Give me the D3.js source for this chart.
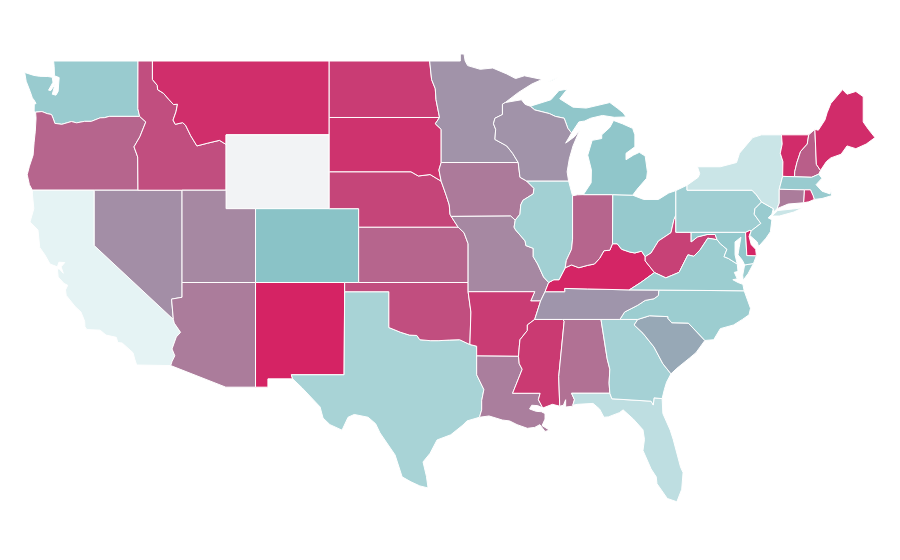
<!DOCTYPE html>
<html>
<head>
<meta charset="utf-8">
<style>
  html, body { margin: 0; background: #fff; }
</style>
</head>
<body>
<div id="map"></div>
<script src="https://cdn.jsdelivr.net/npm/d3@7"></script>
<script>
// shared borders, lon/lat
var ohioRiver = [[-82.6,38.4],[-82.85,38.7],[-83.3,38.6],[-83.65,38.65],[-84.2,38.8],[-84.5,39.1],[-84.82,39.1],[-85.0,38.75],[-85.4,38.72],[-85.7,38.3],[-86.05,38.0],[-86.5,37.93],[-87.1,37.8],[-87.6,37.95],[-88.03,37.8]];
var lowerOhio = [[-88.03,37.8],[-88.45,37.15],[-88.8,37.15],[-89.15,37.0]];
var upperMiss = [[-92.8,44.75],[-92.0,44.4],[-91.6,44.0],[-91.22,43.5],[-91.1,42.7],[-90.65,42.5]];
var iowaMiss = [[-90.65,42.5],[-90.15,42.1],[-90.2,41.8],[-90.9,41.45],[-91.05,41.2],[-91.1,40.7],[-91.42,40.38]];
var moMiss = [[-91.42,40.38],[-91.5,40.0],[-91.4,39.85],[-90.75,39.25],[-90.7,39.0],[-90.2,38.85],[-90.2,38.4],[-89.9,38.0],[-89.5,37.3],[-89.15,37.0]];
var lowMiss = [[-90.1,35.0],[-90.35,34.85],[-90.6,34.7],[-90.6,34.4],[-91.1,33.9],[-91.15,33.5],[-91.2,33.0]];
var redRiver = [[-100,34.56],[-99.2,34.3],[-98.6,34.15],[-98.1,34.13],[-97.9,33.9],[-97.2,33.85],[-96.6,33.85],[-95.9,33.88],[-95.2,33.9],[-94.5,33.64]];
var sabine = [[-94.04,32.0],[-93.55,31.2],[-93.7,30.6],[-93.7,30.1],[-93.85,29.7]];
var moRiver = [[-96.45,42.49],[-96.1,41.7],[-95.9,41.2],[-95.85,40.7],[-95.77,40.58]];
var bitterroot = [[-116.05,49],[-116.05,48],[-115.72,47.68],[-115.7,47.45],[-115.3,47.25],[-114.95,46.93],[-114.62,46.64],[-114.35,46.66],[-114.45,46.25],[-114.65,45.8],[-114.5,45.57],[-114,45.66],[-113.8,45.52],[-113.45,44.95],[-113.03,44.4],[-112.3,44.55],[-111.5,44.7],[-111.05,44.48]];
var hellsCanyon = [[-117.03,42],[-117.05,43.8],[-117.3,44.35],[-116.9,44.9],[-116.5,45.7],[-116.92,46]];
var columbia = [[-116.92,46],[-118.98,46],[-119.3,45.93],[-119.6,45.92],[-120.2,45.73],[-120.65,45.73],[-121.2,45.65],[-121.55,45.72],[-122.2,45.57],[-122.67,45.62],[-122.78,45.87],[-122.9,46.1],[-123.2,46.15],[-123.55,46.26],[-123.98,46.23]];
var coloradoR = [[-114.75,36.1],[-114.63,35],[-114.57,34.8],[-114.14,34.3],[-114.43,34.05],[-114.72,33.4],[-114.53,33.03],[-114.72,32.72]];
var tnNc = [[-81.68,36.59],[-81.7,36.3],[-82,36.12],[-82.6,36.03],[-83.1,35.77],[-84,35.4],[-84.32,35]];
var scNc = [[-83.1,35],[-82.3,35.2],[-81.05,35.15],[-81.05,35.05],[-80.8,34.82],[-79.67,34.8],[-78.55,33.86]];
var kyTop = [[-89.4,36.5],[-88.06,36.5],[-88.07,36.68],[-86.5,36.65],[-83.68,36.6]];
var wvEast = [[-79.48,39.72],[-79.48,39.2],[-79.05,39.47],[-78.4,39.6],[-77.85,39.6],[-77.72,39.32]];
var wvVa = [[-77.72,39.32],[-78.35,39.4],[-78.87,38.77],[-79.3,38.42],[-79.7,38.5],[-80.3,37.55],[-81.2,37.25],[-81.97,37.54]];
var potomac = [[-76.35,38.0],[-76.95,38.3],[-77.25,38.4],[-77.05,38.8],[-77.5,39.1],[-77.72,39.32]];
var upBorder = [[-90.4,46.55],[-90.1,46.35],[-89.1,46.15],[-88.7,46],[-88.1,45.9],[-87.85,45.35],[-87.6,45.1]];
var flNorth = [[-85,31],[-84.86,30.7],[-82.2,30.57],[-82.05,30.36],[-82,30.75],[-81.45,30.71]];
var gaSc = [[-83.1,35],[-83.35,34.7],[-82.75,34.25],[-82,33.5],[-81.4,32.6],[-80.85,32.05]];

function rev(c) { return c.slice().reverse(); }

var WA = [[[-122.76,49],[-117.03,49],[-117.04,46.42]].concat(columbia,
  [[-124.08,46.27],[-124.07,46.65],[-123.95,46.7],[-124.1,46.9],[-124.2,47],[-124.35,47.35],[-124.62,47.9],[-124.72,48.38],[-124.1,48.22],[-123.7,48.17],[-123.15,48.16],[-122.85,48.12],[-122.8,47.85],[-123.1,47.42],[-122.95,47.4],[-122.65,47.75],[-122.85,47.2],[-122.6,47.15],[-122.45,47.35],[-122.42,47.7],[-122.38,48.1],[-122.7,48.2],[-122.72,48.7]])];
var OR = [columbia.concat([[-123.95,45.9],[-124,45.2],[-124.08,44.6],[-124.15,43.9],[-124.4,43.3],[-124.55,42.84],[-124.4,42.3],[-124.2,42]], hellsCanyon)];
var CA = [[[-124.2,42],[-120,42],[-120,39],[-114.63,35]].concat(coloradoR.slice(2),
  [[-114.81,32.5],[-117.12,32.53],[-117.25,32.85],[-117.37,33.2],[-118.1,33.72],[-118.4,33.75],[-118.5,34.03],[-119.2,34.15],[-119.6,34.42],[-120.5,34.45],[-120.63,34.6],[-120.65,34.9],[-120.9,35.4],[-121.3,35.7],[-121.9,36.3],[-121.95,36.6],[-121.8,36.85],[-122.05,36.95],[-122.45,37.3],[-122.5,37.75],[-122.35,37.72],[-122.1,37.5],[-122.25,37.85],[-122,38.08],[-122.4,38.1],[-122.5,37.85],[-123,38],[-123.35,38.5],[-123.7,38.9],[-123.82,39.85],[-124.36,40.28],[-124.1,41],[-124.2,41.8]])];
var NV = [[[-120,42],[-114.04,42],[-114.04,36.2],[-114.75,36.1],[-114.63,35],[-120,39]]];
var ID = [[[-117.03,49]].concat(bitterroot, [[-111.05,42]], hellsCanyon, [[-117.04,46.42]])];
var MT = [bitterroot.concat([[-111.05,45],[-104.05,45],[-104.05,49]])];
var WY = [[[-111.05,45],[-104.05,45],[-104.05,41],[-111.05,41]]];
var UT = [[[-114.04,42],[-111.05,42],[-111.05,41],[-109.05,41],[-109.05,37],[-114.04,37]]];
var CO = [[[-109.05,41],[-102.05,41],[-102.05,37],[-109.05,37]]];
var AZ = [[[-114.04,37],[-109.05,37],[-109.05,31.33],[-111.07,31.33],[-114.81,32.5]].concat(rev(coloradoR), [[-114.04,36.2]])];
var NM = [[[-109.05,37],[-103,37],[-103.04,32],[-106.62,32],[-106.53,31.78],[-108.21,31.78],[-108.21,31.33],[-109.05,31.33]]];
var TX = [[[-106.53,31.78],[-106.62,32],[-103.04,32],[-103,36.5],[-100,36.5]].concat(redRiver, [[-94.04,33.55],[-94.04,33.02]], sabine,
  [[-94.7,29.5],[-94.97,29.28],[-95.8,28.75],[-96.73,28.47],[-97.2,27.75],[-97.68,27.28],[-97.45,26.5],[-97.34,25.87],[-97.9,25.98],[-98.5,26.2],[-99.1,26.47],[-99.58,27.66],[-100.6,28.85],[-100.9,29.35],[-101.41,29.7],[-102.35,29.85],[-102.77,29.7],[-103.18,29],[-104,29.3],[-104.47,29.66],[-104.67,30.26],[-105.9,31.3]])];
var OK = [[[-103,37],[-94.62,37],[-94.62,36.5],[-94.43,35.4]].concat(rev(redRiver), [[-100,36.5],[-103,36.5]])];
var KS = [[[-102.05,40],[-95.3,40],[-94.9,39.7],[-94.62,39.1],[-94.62,37],[-102.05,37]]];
var NE = [[[-104.05,43],[-98.5,43],[-98,42.77],[-97.2,42.85]].concat(moRiver, [[-95.3,40],[-102.05,40],[-102.05,41],[-104.05,41]])];
var SD = [[[-104.05,45.94],[-96.56,45.94],[-96.85,45.6],[-96.45,45.3],[-96.45,43.5],[-96.6,43.1],[-96.45,42.49],[-97.2,42.85],[-98,42.77],[-98.5,43],[-104.05,43]]];
var ND = [[[-104.05,49],[-97.23,49],[-97.1,48],[-96.85,47.5],[-96.8,46.9],[-96.56,45.94],[-104.05,45.94]]];
var MN = [[[-97.23,49],[-95.15,49],[-95.15,49.38],[-94.9,49.38],[-94.82,49],[-94.65,48.75],[-93.8,48.55],[-92.95,48.62],[-92,48.3],[-91.4,48.05],[-90.8,48.2],[-89.6,48],[-90.3,47.75],[-91.2,47.3],[-92.1,46.75],[-92.29,46.66],[-92.29,46.1],[-92.8,45.9],[-92.9,45.6],[-92.75,45.3]].concat(upperMiss.slice(0,4),
  [[-96.45,43.5],[-96.45,45.3],[-96.85,45.6],[-96.56,45.94],[-96.8,46.9],[-96.85,47.5],[-97.1,48]])];
var IA = [[[-96.45,43.5],[-91.22,43.5],[-91.1,42.7]].concat(iowaMiss, [[-91.73,40.6]], rev(moRiver), [[-96.6,43.1]])];
var MO = [[[-95.77,40.58],[-91.73,40.6]].concat(moMiss, [[-89.4,36.5],[-89.7,36],[-90.37,36],[-90.1,36.5],[-94.62,36.5],[-94.62,37],[-94.62,39.1],[-94.9,39.7],[-95.3,40]])];
var AR = [[[-94.62,36.5],[-90.1,36.5],[-90.37,36],[-89.7,36]].concat(lowMiss, [[-94.04,33.02],[-94.04,33.55],[-94.5,33.64],[-94.43,35.4]])];
var LA = [[[-94.04,33.02],[-91.2,33],[-91.15,32.6],[-90.95,32.3],[-91.6,31],[-89.73,31],[-89.85,30.65],[-89.55,30.2],[-89.9,30.33],[-90.3,30.35],[-90.45,30.15],[-90,30.02],[-89.65,30],[-89.4,29.9],[-89.4,29.6],[-89.6,29.25],[-89.1,29],[-89.4,28.93],[-89.75,29.3],[-90.1,29.15],[-90.6,29.1],[-91.3,29.3],[-91.8,29.5],[-92.3,29.55],[-93.2,29.77]].concat(rev(sabine))];
var MS = [lowMiss.concat([[-91.15,32.6],[-90.95,32.3],[-91.6,31],[-89.73,31],[-89.85,30.65],[-89.55,30.2],[-88.9,30.4],[-88.4,30.3],[-88.47,31.9],[-88.1,34.9],[-88.2,35]])];
var AL = [[[-88.2,35],[-85.6,35],[-85.18,32.87],[-85,32.3],[-85.05,31.55],[-85,31],[-87.6,31],[-87.4,30.65],[-87.52,30.3],[-88,30.25],[-88,30.65],[-88.15,30.35],[-88.4,30.3],[-88.47,31.9],[-88.1,34.9]]];
var FL = [[[-87.6,31]].concat(flNorth, [[-81.4,29.9],[-80.9,29],[-80.7,28.5],[-80.2,27],[-80.03,26.7],[-80.12,25.8],[-80.45,25.12],[-81.1,25.3],[-81.8,26.1],[-81.85,26.47],[-82.2,26.9],[-82.75,27.9],[-82.65,28.5],[-82.75,29.02],[-83.4,29.6],[-84.1,30.1],[-84.35,29.95],[-85.1,29.72],[-85.4,29.7],[-85.7,30.15],[-86.14,30.45],[-87.2,30.4],[-87.52,30.35],[-87.4,30.65]])];
var GA = [[[-85.6,35]].concat(gaSc, [[-81.15,31.6],[-81.3,31.2]], rev(flNorth), [[-85.05,31.55],[-85,32.3],[-85.18,32.87]])];
var SC = [scNc.concat([[-79.15,33.2],[-79.6,32.9],[-80.45,32.35]], rev(gaSc))];
var NC = [[[-84.32,35]].concat(scNc, [[-77.95,33.9],[-77.5,34.5],[-76.6,34.7],[-76,35],[-75.55,35.25],[-75.45,35.6],[-75.88,36.55]], tnNc)];
var TN = [kyTop.concat([[-81.68,36.59]], tnNc.slice(1), [[-85.6,35],[-88.2,35],[-90.1,35],[-89.7,36]])];
var KY = [kyTop.concat([[-82.9,37],[-81.97,37.54],[-82.6,38.17]], ohioRiver, lowerOhio)];
var IL = [[[-90.65,42.5],[-87.8,42.5],[-87.55,41.75],[-87.53,41.7],[-87.53,39.35],[-87.6,38.8],[-87.95,38.2]].concat(lowerOhio, rev(moMiss), rev(iowaMiss))];
var IN = [[[-87.53,41.7],[-87.2,41.75],[-86.8,41.76],[-84.8,41.76],[-84.82,39.1]].concat(ohioRiver.slice(7), [[-87.95,38.2],[-87.6,38.8],[-87.53,39.35]])];
var OH = [[[-84.8,41.76],[-83.45,41.73],[-82.7,41.5],[-81.7,41.5],[-81,41.85],[-80.52,41.98],[-80.52,40.64],[-80.65,40.4],[-80.85,39.7],[-81.7,39.25],[-82.2,38.6]].concat(ohioRiver.slice(0,7))];
var WV = [[[-80.52,40.64],[-80.52,39.72]].concat(wvEast, wvVa.slice(1), [[-82.6,38.17],[-82.6,38.4],[-82.2,38.6],[-81.7,39.25],[-80.85,39.7],[-80.65,40.4]])];
var VA = [[[-83.68,36.6],[-81.68,36.59],[-75.88,36.55],[-75.97,36.9],[-76.3,37],[-76.65,37.15],[-76.35,37.2],[-76.55,37.55],[-76.3,37.6]].concat(potomac, wvVa.slice(1), [[-82.9,37]]),
  [[-75.95,37.12],[-75.98,37.4],[-75.85,37.95],[-75.25,38.03],[-75.6,37.5]]];
var MD = [wvEast.concat(rev(potomac), [[-76.5,38.5],[-76.5,39.2],[-76.1,39.45],[-76.22,38.9],[-76.3,38.5],[-76,38.2],[-75.85,37.95],[-75.25,38.03],[-75.05,38.45],[-75.7,38.46],[-75.79,39.72]]).reverse()];
var DE = [[[-75.79,39.72],[-75.5,39.83],[-75.4,39.8],[-75.55,39.5],[-75.4,39.05],[-75.1,38.8],[-75.05,38.45],[-75.7,38.46]]];
var PA = [[[-80.52,41.98],[-79.76,42.27],[-79.76,42],[-75.35,42],[-75.05,41.75],[-74.7,41.36],[-75.15,41],[-75.2,40.7],[-74.75,40.2],[-75.4,39.8],[-75.5,39.83],[-75.79,39.72],[-80.52,39.72]]];
var NJ = [[[-74.7,41.36],[-73.9,41],[-74,40.7],[-74.25,40.5],[-74,40.4],[-74.1,39.75],[-74.4,39.4],[-74.9,38.95],[-75,39.2],[-75.5,39.55],[-75.4,39.8],[-74.75,40.2],[-75.2,40.7],[-75.15,41]]];
var NY = [[[-79.76,42.27],[-79,42.7],[-78.9,42.9],[-79.05,43.27],[-77.5,43.27],[-76.4,43.5],[-76.2,44],[-75.3,44.85],[-74.7,45],[-73.35,45],[-73.3,44.5],[-73.43,44],[-73.25,43.55],[-73.27,42.75],[-73.5,42.05],[-73.5,41.3],[-73.65,41],[-73.9,40.8],[-73.9,41],[-74.7,41.36],[-75.05,41.75],[-75.35,42],[-79.76,42]],
  [[-74,40.6],[-73.6,40.9],[-72.6,40.98],[-71.9,41.05],[-72.5,40.82],[-73.5,40.6]]];
var VT = [[[-73.35,45],[-71.5,45],[-71.6,44.5],[-72.05,44.1],[-72.3,43.5],[-72.45,43],[-72.46,42.73],[-73.27,42.75],[-73.25,43.55],[-73.43,44],[-73.3,44.5]]];
var NH = [[[-71.5,45],[-71.08,45.3],[-70.98,43.4],[-70.7,43.07],[-70.82,42.87],[-71.3,42.7],[-72.46,42.73],[-72.45,43],[-72.3,43.5],[-72.05,44.1],[-71.6,44.5]]];
var ME = [[[-71.08,45.3],[-70.85,45.25],[-70.4,45.8],[-70.25,46.2],[-70,46.7],[-69.2,47.45],[-68.9,47.2],[-68.3,47.35],[-67.8,47.07],[-67.8,45.7],[-67.45,45.3],[-67,44.85],[-67.6,44.5],[-68.3,44.25],[-68.9,44.4],[-69.3,43.95],[-70,43.75],[-70.3,43.55],[-70.7,43.07],[-70.98,43.4]]];
var MA = [[[-73.5,42.05],[-73.27,42.75],[-72.46,42.73],[-71.3,42.7],[-70.82,42.87],[-70.6,42.65],[-71,42.3],[-70.6,41.95],[-70.05,41.8],[-70,42.05],[-69.95,41.7],[-70.6,41.55],[-71.12,41.5],[-71.2,41.7],[-71.38,42.02],[-71.8,42.02]]];
var RI = [[[-71.8,42.02],[-71.38,42.02],[-71.2,41.7],[-71.12,41.5],[-71.5,41.37],[-71.85,41.32]]];
var CT = [[[-73.5,42.05],[-71.8,42.02],[-71.85,41.32],[-72.9,41.25],[-73.65,41],[-73.5,41.3]]];
var MI = [[[-86.8,41.76],[-84.8,41.76],[-83.45,41.73],[-83.15,42.05],[-82.5,42.65],[-82.45,43],[-82.6,43.85],[-83,44.05],[-83.4,43.9],[-83.9,43.65],[-83.9,44],[-83.3,44.35],[-83.3,45],[-83.45,45.35],[-84.15,45.6],[-84.75,45.78],[-85,45.4],[-85.55,45],[-85.55,44.8],[-86.2,44.7],[-86.5,43.9],[-86.25,43.1],[-86.27,42.4]],
  upBorder.concat([[-87.1,45.7],[-86.7,45.75],[-86.3,45.9],[-85.5,46.05],[-84.7,45.95],[-83.9,45.97],[-84.1,46.2],[-84.5,46.45],[-85,46.75],[-86.6,46.45],[-87.5,46.5],[-88.4,46.95],[-87.9,47.47],[-88.45,47.4],[-89,46.9]]),
  [[-89.2,47.85],[-88.5,48.15],[-88.9,47.95]]];
var WI = [[[-92.29,46.66],[-92.1,46.75],[-91,46.9],[-90.75,46.65]].concat(upBorder,
  [[-88,44.55],[-87.4,44.9],[-87.05,45.25],[-87.5,44.4],[-87.75,43.7],[-87.9,43],[-87.8,42.5]], rev(upperMiss), [[-92.75,45.3],[-92.9,45.6],[-92.8,45.9],[-92.29,46.1]])];

var stateNames = ["WA","OR","CA","NV","ID","MT","WY","UT","CO","AZ","NM","TX","OK","KS","NE","SD","ND","MN","IA","MO","AR","LA","MS","AL","FL","GA","SC","NC","TN","KY","IL","IN","OH","WV","VA","MD","DE","PA","NJ","NY","VT","NH","ME","MA","RI","CT","MI","WI"];
var stateValues = [25,71,0,53,81,95,null,56,30,61,100,20,81,71,85,93,89,51,62,56,89,60,90,66,13,21,42,24,50,99,22,71,26,87,24,27,99,23,25,9,96,74,96,25,90,61,28,51];
var stateShapes = [WA,OR,CA,NV,ID,MT,WY,UT,CO,AZ,NM,TX,OK,KS,NE,SD,ND,MN,IA,MO,AR,LA,MS,AL,FL,GA,SC,NC,TN,KY,IL,IN,OH,WV,VA,MD,DE,PA,NJ,NY,VT,NH,ME,MA,RI,CT,MI,WI];

var width = 900, height = 560;

var color = d3.scaleLinear()
    .domain([0, 30, 100])
    .range(["#e5f3f4", "#8ac3c7", "#d52364"]);

var xScale = d3.scaleLinear().domain([-124.7, -67]).range([25, 875]);
var yScale = d3.scaleLinear().domain([49, 25.84]).range([61, 488.5]);

var projection = d3.geoTransform({
    point: function(lon, lat) { this.stream.point(xScale(lon), yScale(lat)); }
});
var path = d3.geoPath().projection(projection);

var features = stateNames.map(function(name, i) {
    return {
        type: "Feature",
        id: name,
        properties: { value: stateValues[i] },
        geometry: { type: "MultiPolygon", coordinates: stateShapes[i].map(function(r) { return [r.concat([r[0]])]; }) }
    };
});

var svg = d3.select("#map").append("svg")
    .attr("width", width)
    .attr("height", height)
    .style("display", "block");

svg.selectAll("path")
    .data(features)
    .enter().append("path")
    .attr("d", path)
    .attr("fill", function(d) { return d.properties.value === null ? "#f2f3f5" : color(d.properties.value); })
    .attr("stroke", "#fff")
    .attr("stroke-width", 1);
</script>
</body>
</html>
